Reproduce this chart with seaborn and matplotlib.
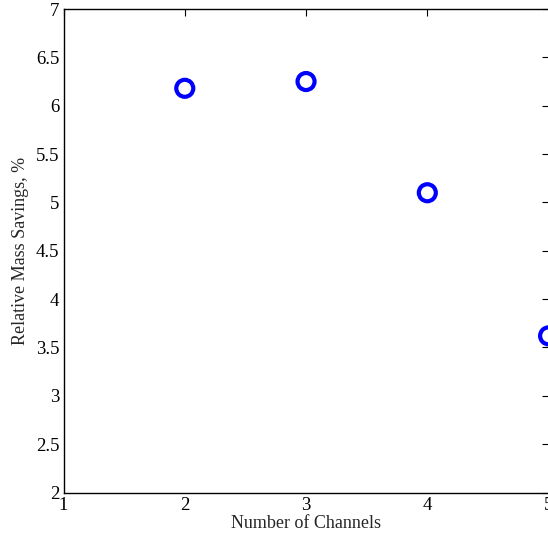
import matplotlib
matplotlib.use("Agg")
import matplotlib.pyplot as plt
import pandas as pd
import seaborn as sns

# data
channels = [2, 3, 4, 5]
mass_savings = [6.18, 6.25, 5.10, 3.62]
x_ticks = [1, 2, 3, 4, 5]
y_ticks = [2, 2.5, 3, 3.5, 4, 4.5, 5, 5.5, 6, 6.5, 7]

df = pd.DataFrame({"channels": channels, "savings": mass_savings})

sns.set_theme(style="white")
plt.rcParams['font.family'] = ['Liberation Serif', 'DejaVu Serif']

fig = plt.figure(figsize=(5.48, 5.42), dpi=100)
ax = fig.add_axes([63.5 / 548, 1 - 492.5 / 542, 485.1 / 548, 483.5 / 542])

sns.scatterplot(data=df, x="channels", y="savings", ax=ax, marker="o",
                s=150, facecolor="none", edgecolor="#0000ff", linewidth=3.0,
                clip_on=False, zorder=3)

ax.set_xlim(1, 5)
ax.set_ylim(2, 7)
ax.set_xticks(x_ticks)
ax.set_xticklabels([str(t) for t in x_ticks])
ax.set_yticks(y_ticks)
ax.set_yticklabels([f"{t:g}" for t in y_ticks])
ax.tick_params(direction="in", length=5, width=0.8, top=True, right=True,
               labelsize=13.5, colors="black", pad=3)
for s in ax.spines.values():
    s.set_color("black")
    s.set_linewidth(1.0)

ax.set_xlabel("Number of Channels", fontsize=13, labelpad=1)
ax.set_ylabel("Relative Mass Savings, %", fontsize=13, labelpad=5)

fig.savefig("out.png", dpi=100)
